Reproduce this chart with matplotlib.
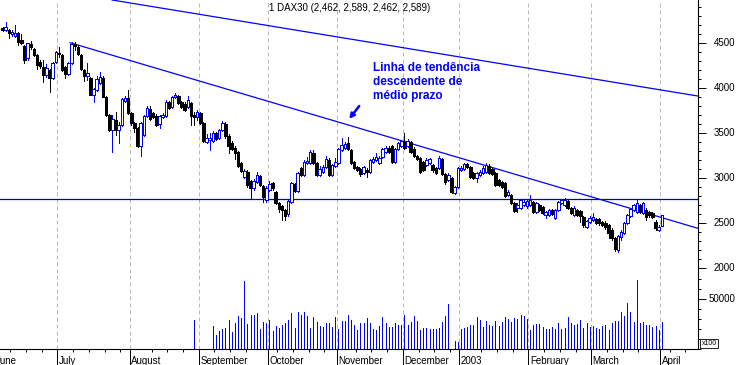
import numpy as np
import matplotlib
matplotlib.use('Agg')
import matplotlib.pyplot as plt
import matplotlib.transforms as mtransforms
from matplotlib.patches import Rectangle
from matplotlib.ticker import MultipleLocator

plt.rcParams['font.family'] = ['Liberation Sans', 'DejaVu Sans']

# DAX30 daily bars, June 2002 .. 1 April 2003 (bar index = trading day)
opens = [4667, 4645, 4645, 4600, 4578, 4611, 4534, 4467, 4334, 4489,
         4434, 4367, 4289, 4234, 4145, 4200, 4111, 4289, 4389, 4367,
         4234, 4156, 4278, 4489, 4456, 4367, 4200, 4134, 4111, 3923,
         3978, 4056, 4111, 3900, 3700, 3534, 3645, 3534, 3589, 3856,
         3889, 3722, 3611, 3556, 3356, 3478, 3689, 3767, 3722, 3689,
         3600, 3678, 3689, 3845, 3789, 3900, 3911, 3845, 3822, 3789,
         3834, 3700, 3678, 3722, 3611, 3400, 3422, 3411, 3500, 3445,
         3534, 3600, 3467, 3389, 3333, 3289, 3167, 3011, 3067, 2967,
         2889, 2956, 3022, 2911, 2756, 2867, 2945, 2845, 2722, 2689,
         2645, 2600, 2733, 2934, 2856, 3111, 3034, 3167, 3167, 3278,
         3167, 3034, 3067, 3122, 3200, 3034, 3133, 3167, 3311, 3333,
         3389, 3311, 3178, 3122, 3100, 3056, 3089, 3067, 3178, 3200,
         3167, 3233, 3289, 3333, 3356, 3178, 3322, 3356, 3411, 3356,
         3400, 3322, 3245, 3222, 3178, 3145, 3167, 3145, 3111, 3111,
         3211, 3045, 2978, 3000, 2834, 2900, 3089, 3100, 3156, 3122,
         3056, 3000, 3034, 3056, 3067, 3133, 3100, 3056, 2978, 2956,
         2945, 2811, 2811, 2722, 2667, 2667, 2700, 2689, 2700, 2733,
         2622, 2700, 2678, 2589, 2589, 2645, 2556, 2645, 2722, 2700,
         2745, 2667, 2589, 2645, 2634, 2567, 2456, 2511, 2534, 2545,
         2545, 2511, 2500, 2478, 2422, 2334, 2200, 2345, 2389, 2500,
         2578, 2645, 2622, 2700, 2611, 2645, 2622, 2611, 2511, 2422,
         2462]
highs = [4678, 4734, 4656, 4645, 4700, 4622, 4600, 4478, 4500, 4522,
         4445, 4378, 4311, 4311, 4267, 4211, 4289, 4411, 4456, 4378,
         4245, 4289, 4511, 4511, 4478, 4378, 4211, 4278, 4122, 4000,
         4134, 4178, 4134, 3911, 3711, 3700, 3733, 3622, 3889, 3911,
         3978, 3733, 3622, 3567, 3622, 3700, 3800, 3800, 3733, 3711,
         3700, 3722, 3867, 3856, 3911, 3945, 3923, 3856, 3845, 3911,
         3845, 3733, 3756, 3733, 3622, 3489, 3500, 3522, 3511, 3545,
         3634, 3622, 3489, 3411, 3356, 3300, 3178, 3100, 3089, 2978,
         2989, 3067, 3034, 2922, 2911, 2967, 2956, 2856, 2733, 2700,
         2656, 2756, 2956, 2945, 3067, 3122, 3200, 3233, 3311, 3311,
         3178, 3133, 3145, 3245, 3222, 3156, 3222, 3333, 3445, 3400,
         3456, 3322, 3189, 3133, 3111, 3133, 3111, 3211, 3233, 3278,
         3245, 3333, 3356, 3356, 3367, 3333, 3400, 3422, 3500, 3433,
         3411, 3345, 3256, 3233, 3189, 3222, 3222, 3156, 3122, 3245,
         3222, 3056, 3056, 3011, 2911, 3122, 3133, 3167, 3167, 3133,
         3067, 3067, 3089, 3133, 3167, 3156, 3111, 3067, 2989, 2967,
         2956, 2867, 2822, 2733, 2722, 2767, 2756, 2767, 2811, 2745,
         2733, 2711, 2689, 2634, 2656, 2656, 2656, 2745, 2767, 2778,
         2756, 2678, 2689, 2656, 2645, 2578, 2534, 2578, 2611, 2556,
         2556, 2522, 2522, 2489, 2445, 2345, 2367, 2422, 2511, 2600,
         2667, 2711, 2756, 2711, 2733, 2667, 2634, 2622, 2534, 2478,
         2589]
lows = [4634, 4634, 4556, 4578, 4567, 4478, 4489, 4278, 4311, 4434,
        4356, 4211, 4222, 4067, 4122, 3956, 4100, 4278, 4345, 4189,
        4111, 4145, 4267, 4422, 4367, 4200, 4078, 4089, 3923, 3845,
        3967, 4045, 3900, 3689, 3522, 3289, 3478, 3389, 3578, 3845,
        3711, 3589, 3511, 3345, 3245, 3467, 3678, 3645, 3667, 3578,
        3556, 3667, 3678, 3767, 3778, 3889, 3822, 3778, 3745, 3778,
        3589, 3589, 3645, 3600, 3400, 3389, 3311, 3400, 3422, 3433,
        3522, 3445, 3278, 3311, 3211, 3122, 3067, 3000, 2900, 2778,
        2867, 2945, 2911, 2733, 2733, 2856, 2867, 2711, 2622, 2534,
        2534, 2578, 2722, 2845, 2845, 3022, 3022, 3156, 3156, 3156,
        3022, 3022, 3056, 3111, 3022, 3022, 3122, 3156, 3300, 3322,
        3311, 3156, 3100, 3078, 3022, 3045, 3011, 3056, 3167, 3189,
        3156, 3222, 3278, 3278, 3167, 3167, 3311, 3345, 3322, 3345,
        3278, 3233, 3200, 3056, 3078, 3133, 3156, 3067, 3045, 3100,
        3034, 2934, 2967, 2834, 2822, 2889, 3078, 3089, 3111, 3000,
        2989, 2956, 3022, 3045, 3056, 3045, 3034, 2911, 2911, 2889,
        2789, 2800, 2711, 2622, 2622, 2656, 2689, 2667, 2689, 2611,
        2611, 2634, 2600, 2556, 2578, 2589, 2545, 2634, 2711, 2689,
        2656, 2600, 2578, 2578, 2511, 2456, 2445, 2500, 2522, 2489,
        2478, 2467, 2434, 2334, 2311, 2189, 2178, 2311, 2378, 2489,
        2567, 2634, 2611, 2611, 2600, 2534, 2567, 2556, 2422, 2411,
        2462]
closes = [4645, 4678, 4611, 4622, 4611, 4511, 4500, 4311, 4500, 4456,
          4367, 4256, 4245, 4145, 4222, 4111, 4278, 4400, 4378, 4200,
          4156, 4278, 4489, 4467, 4378, 4211, 4134, 4167, 3923, 3989,
          4100, 4122, 3900, 3700, 3534, 3656, 3534, 3589, 3878, 3889,
          3722, 3611, 3556, 3356, 3611, 3689, 3778, 3656, 3678, 3589,
          3689, 3700, 3845, 3778, 3900, 3923, 3834, 3789, 3756, 3867,
          3689, 3678, 3733, 3611, 3411, 3445, 3445, 3500, 3433, 3534,
          3611, 3467, 3356, 3322, 3278, 3133, 3078, 3078, 2922, 2889,
          2967, 3034, 2922, 2789, 2889, 2934, 2889, 2722, 2656, 2645,
          2578, 2745, 2945, 2856, 3056, 3034, 3178, 3189, 3289, 3167,
          3034, 3100, 3122, 3211, 3034, 3145, 3178, 3322, 3367, 3378,
          3322, 3167, 3111, 3089, 3045, 3122, 3067, 3200, 3211, 3233,
          3222, 3322, 3333, 3289, 3178, 3322, 3389, 3411, 3333, 3411,
          3289, 3245, 3211, 3067, 3089, 3200, 3211, 3089, 3056, 3222,
          3045, 2956, 3034, 2845, 2900, 3111, 3111, 3156, 3122, 3011,
          3000, 3056, 3067, 3111, 3145, 3056, 3045, 2922, 2922, 2900,
          2800, 2845, 2722, 2634, 2700, 2756, 2733, 2745, 2756, 2622,
          2722, 2645, 2611, 2622, 2645, 2600, 2645, 2733, 2756, 2756,
          2667, 2611, 2667, 2589, 2578, 2478, 2522, 2556, 2567, 2500,
          2500, 2478, 2456, 2389, 2334, 2211, 2356, 2400, 2500, 2589,
          2656, 2700, 2722, 2622, 2722, 2567, 2589, 2567, 2445, 2456,
          2589]

# volume in units of 100 shares (0 = no data)
volume = [0] * 61 + [29] + [0] * 5 + [
    23, 14, 18, 20, 21, 29, 17, 26, 33, 31,
    68, 25, 34, 34, 36, 20, 27, 26, 29, 18,
    23, 21, 24, 26, 29, 36, 21, 37, 34, 37,
    33, 21, 32, 27, 23, 22, 26, 26, 22, 32,
    20, 28, 28, 34, 29, 24, 19, 26, 26, 31,
    26, 20, 19, 23, 32, 26, 22, 22, 26, 24,
    24, 34, 24, 27, 33, 28, 19, 21, 21, 20,
    20, 20, 21, 27, 33, 45, 0, 8, 7, 20,
    21, 22, 24, 24, 32, 29,
    22, 28, 24, 23, 28, 23, 27, 32, 30, 27,
    31, 30, 34, 33, 30, 19, 24, 25, 25, 22,
    20, 20, 22, 20, 26, 20, 21, 32, 26, 24,
    25, 29, 21, 26, 22, 23, 21, 20, 23, 24,
    19, 26, 28, 28, 37, 33, 46, 37, 27, 69,
    26, 27, 24, 24, 22, 23, 19, 27]
volume = np.array(volume) * 1000

month_names = ['June', 'July', 'August', 'September', 'October', 'November',
               'December', '2003', 'February', 'March', 'April']
month_first_bar = [-2, 18, 41, 63, 85, 107, 128, 146, 168, 188, 210]

# trend lines (bar index, price) and support level
upper_trend_x = [34.9, 221.5]
upper_trend_y = [4978, 3911]
lower_trend_x = [21.5, 221.5]
lower_trend_y = [4503, 2441]
support_level = 2765

price_ticks = [2000, 2500, 3000, 3500, 4000, 4500]

fig = plt.figure(figsize=(7.38, 3.65), dpi=100)
ax = fig.add_axes([0, 1 - 273 / 365, 698 / 738, 273 / 365])
axv = fig.add_axes([0, 16 / 365, 698 / 738, 76 / 365])

n = len(closes)
xmin, xmax = -0.8, 221.5
px = 0.72  # one pixel in points

bounds = [b - 0.5 for b in month_first_bar]
for b in bounds:
    for a in (ax, axv):
        a.axvline(b, color='#b8b8b8', lw=px, ls=(0, (4, 3)), zorder=1)

ax.axhline(support_level, color='#0000cc', lw=0.9, zorder=2)
ax.plot(upper_trend_x, upper_trend_y, color='#0000ff', lw=0.9, zorder=2)
ax.plot(lower_trend_x, lower_trend_y, color='#0000ff', lw=0.9, zorder=2)

for i in range(n):
    o, h, l, c = opens[i], highs[i], lows[i], closes[i]
    up = c >= o
    col = '#0000ff' if up else 'black'
    lo, hi = min(o, c), max(o, c)
    ax.vlines(i, l, h, color=col, lw=px, zorder=3, antialiased=False)
    ax.add_patch(Rectangle((i - 0.4, lo), 0.8, max(hi - lo, 8),
                           facecolor='white' if up else 'black',
                           edgecolor=col, lw=px, zorder=4, antialiased=False))

idx = np.arange(n)
has_vol = volume > 0
axv.vlines(idx[has_vol], 0, volume[has_vol], color='#0000ff', lw=px, zorder=3,
           antialiased=False)

# axes decoration
for a in (ax, axv):
    for s in ('left', 'top'):
        a.spines[s].set_visible(False)
    a.spines['right'].set_linewidth(0.8)
    a.yaxis.tick_right()
ax.spines['bottom'].set_visible(False)
axv.spines['bottom'].set_linewidth(0.8)

ax.set_xticks([])
ax.set_yticks(price_ticks)
ax.yaxis.set_minor_locator(MultipleLocator(100))
ax.tick_params(axis='y', which='major', length=5.8, width=0.7, labelright=False)
ax.tick_params(axis='y', which='minor', length=2.2, width=0.7)

axv.set_yticks([50000])
axv.yaxis.set_minor_locator(MultipleLocator(10000))
axv.tick_params(axis='y', which='major', length=5.8, width=0.7, labelright=False)
axv.tick_params(axis='y', which='minor', length=2.2, width=0.7)

weeks = [w for w in np.arange(2.5, 221, 5) if min(abs(w - b) for b in bounds) > 2.6]
axv.set_xticks(bounds)
axv.set_xticks(weeks, minor=True)
axv.tick_params(axis='x', which='major', length=11.5, width=0.7, labelbottom=False)
axv.tick_params(axis='x', which='minor', length=2.2, width=0.7)

ax.set_xlim(xmin, xmax)
axv.set_xlim(xmin, xmax)
ax.set_ylim(1945, 4978)
axv.set_ylim(0, 76000)

lab_tr = mtransforms.blended_transform_factory(ax.transAxes, ax.transData)
for v in price_ticks:
    ax.text(1 + 37 / 698, v, str(v), transform=lab_tr, ha='right', va='center',
            fontsize=7, clip_on=False)
vlab_tr = mtransforms.blended_transform_factory(axv.transAxes, axv.transData)
axv.text(1 + 37 / 698, 50000, '50000', transform=vlab_tr, ha='right', va='center',
         fontsize=7, clip_on=False)

mon_tr = mtransforms.blended_transform_factory(axv.transData, fig.transFigure)
for b, name in zip(bounds, month_names):
    axv.text(b + 0.45, 1 - 361 / 365, name, transform=mon_tr, ha='left', va='center',
             fontsize=7, clip_on=False)

fig.text(350 / 738, 1 - 8 / 365, '1 DAX30 (2,462, 2,589, 2,462, 2,589)',
         ha='center', va='center', fontsize=7)

ax.text(117.9, 4290, 'Linha de tendência\ndescendente de\nmédio prazo',
        color='#0000ff', fontsize=8.5, fontweight='bold', ha='left', va='top',
        linespacing=1.2)
ax.annotate('', xy=(110.4, 3656), xytext=(113.6, 3800),
            arrowprops=dict(arrowstyle='-|>', color='#0000ff', lw=1.8,
                            mutation_scale=7, shrinkA=0, shrinkB=0))

fig.text(709 / 738, 1 - 343.5 / 365, 'x100', ha='center', va='center', fontsize=5,
         bbox=dict(boxstyle='square,pad=0.15', fc='white', ec='black', lw=0.6))

fig.savefig('out.png', dpi=100)
